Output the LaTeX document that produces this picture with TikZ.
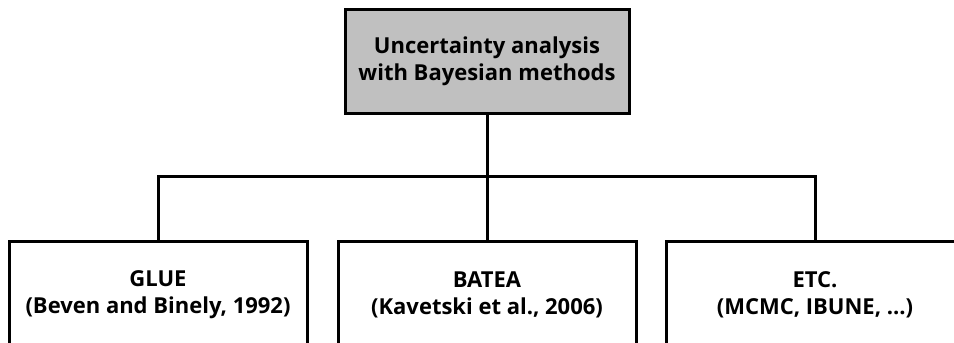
\documentclass[tikz,border=0pt]{standalone}
\usepackage{fontspec}
\setmainfont{Open Sans}
\definecolor{boxgray}{HTML}{C0C0C0}
\begin{document}
\begin{tikzpicture}[x=1pt,y=1pt,
  every node/.style={font=\bfseries\fontsize{22}{27}\selectfont, align=center, inner sep=0pt},
  topbox/.style={draw=black, line width=3pt, fill=boxgray, minimum width=284pt, minimum height=104pt},
  leafbox/.style={draw=black, line width=3pt, fill=white, minimum width=298pt, minimum height=108pt},
  link/.style={draw=black, line width=3pt}]
\useasboundingbox (0,0) rectangle (954,-343);
\node[topbox] (root) at (487,-61) {Uncertainty analysis\\with Bayesian methods};
\node[leafbox] (glue) at (158,-295) {GLUE\\(Beven and Binely, 1992)};
\node[leafbox] (batea) at (487,-295) {BATEA\\(Kavetski et al., 2006)};
\node[leafbox] (etc) at (815,-295) {ETC.\\(MCMC, IBUNE, ...)};
\coordinate (hb) at (487,-176);
\draw[link] (root.south) -- (hb);
\draw[link] (glue.north) |- (etc.north |- hb) -- (etc.north);
\draw[link] (hb) -- (batea.north);
\end{tikzpicture}
\end{document}
